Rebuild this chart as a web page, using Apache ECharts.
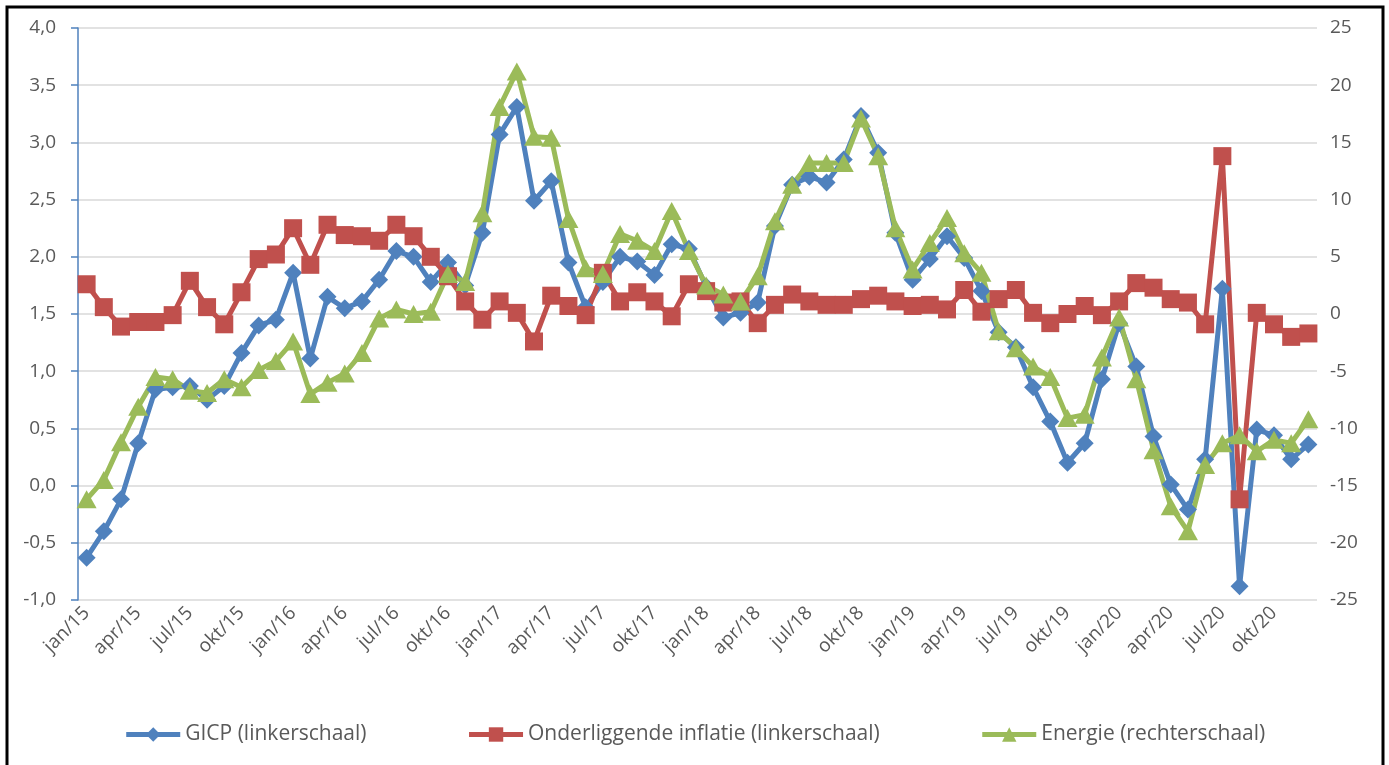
<!DOCTYPE html>
<html>
<head>
<meta charset="utf-8">
<script src="https://cdn.jsdelivr.net/npm/echarts@6/dist/echarts.min.js"></script>
<style>
html,body{margin:0;padding:0;background:#fff;}
#chart{width:1389px;height:765px;}
</style>
</head>
<body>
<div id="chart"></div>
<script>
const months = ['jan','feb','mrt','apr','mei','jun','jul','aug','sep','okt','nov','dec'];
const years = ['15','16','17','18','19','20'];
const categories = [];
years.forEach(y => months.forEach(m => categories.push(m + '/' + y)));

const gicp = [
-0.63, -0.40, -0.12, 0.37, 0.84, 0.86, 0.87, 0.75, 0.87, 1.16, 1.40, 1.45,
1.86, 1.11, 1.65, 1.55, 1.61, 1.80, 2.05, 2.00, 1.78, 1.95, 1.75, 2.21,
3.07, 3.31, 2.49, 2.66, 1.95, 1.56, 1.78, 2.00, 1.96, 1.84, 2.11, 2.07,
1.74, 1.47, 1.51, 1.60, 2.27, 2.63, 2.70, 2.65, 2.85, 3.23, 2.91, 2.21,
1.80, 1.98, 2.18, 1.99, 1.70, 1.34, 1.21, 0.86, 0.56, 0.20, 0.37, 0.93,
1.42, 1.04, 0.43, 0.01, -0.21, 0.23, 1.72, -0.88, 0.49, 0.44, 0.23, 0.36
];
const onderliggend = [
1.76, 1.56, 1.39, 1.43, 1.43, 1.49, 1.79, 1.56, 1.41, 1.69, 1.98, 2.02,
2.25, 1.93, 2.28, 2.19, 2.18, 2.14, 2.28, 2.18, 2.00, 1.83, 1.61, 1.45,
1.61, 1.51, 1.26, 1.66, 1.57, 1.49, 1.86, 1.61, 1.69, 1.61, 1.48, 1.76,
1.70, 1.60, 1.61, 1.42, 1.58, 1.67, 1.61, 1.58, 1.58, 1.63, 1.66, 1.61,
1.57, 1.58, 1.54, 1.71, 1.52, 1.63, 1.71, 1.51, 1.42, 1.50, 1.57, 1.49,
1.61, 1.77, 1.73, 1.63, 1.60, 1.41, 2.88, -0.12, 1.51, 1.41, 1.30, 1.33
];
const energie = [
-16.2, -14.5, -11.2, -8.1, -5.5, -5.7, -6.7, -6.9, -5.7, -6.4, -4.9, -4.1,
-2.4, -7.0, -6.0, -5.2, -3.4, -0.4, 0.4, 0.0, 0.2, 3.5, 2.8, 8.8,
18.1, 21.2, 15.5, 15.4, 8.3, 4.0, 3.5, 7.0, 6.4, 5.5, 9.0, 5.5,
2.5, 1.7, 1.1, 3.3, 8.1, 11.3, 13.2, 13.2, 13.2, 17.1, 13.8, 7.5,
3.9, 6.2, 8.4, 5.3, 3.6, -1.5, -3.0, -4.6, -5.5, -9.1, -8.8, -3.8,
-0.3, -5.7, -11.9, -16.8, -19.0, -13.2, -11.3, -10.6, -12.0, -11.0, -11.3, -9.2
];
const seriesNames = ['GICP (linkerschaal)', 'Onderliggende inflatie (linkerschaal)', 'Energie (rechterschaal)'];

const FONT = '"Open Sans", sans-serif';
const TXT = '#595959';
const chart = echarts.init(document.getElementById('chart'), null, {renderer: 'canvas'});
chart.setOption({
  animation: false,
  backgroundColor: '#fff',
  textStyle: {fontFamily: FONT},
  grid: {left: 78, right: 72, top: 28, bottom: 165, containLabel: false},
  graphic: [{
    type: 'rect', shape: {x: 7, y: 7, width: 1376, height: 770},
    style: {fill: 'none', stroke: '#000', lineWidth: 3}, silent: true, z: 100
  }],
  legend: {
    bottom: 15, left: 'center',
    itemWidth: 54, itemHeight: 18, itemGap: 100,
    lineStyle: {width: 5},
    textStyle: {fontFamily: FONT, fontSize: 21, color: TXT},
    data: seriesNames
  },
  xAxis: {
    type: 'category', data: categories, boundaryGap: true,
    axisLine: {show: false}, axisTick: {show: false},
    axisLabel: {interval: 2, rotate: 45, margin: 10, fontFamily: FONT, fontSize: 19, color: TXT}
  },
  yAxis: [{
    type: 'value', min: -1, max: 4, interval: 0.5, position: 'left',
    axisLine: {show: true, lineStyle: {color: '#4F81BD', width: 1.5}},
    axisTick: {show: true, length: 7, lineStyle: {color: '#4F81BD', width: 1.5}},
    splitLine: {show: true, lineStyle: {color: '#D9D9D9', width: 1.5}},
    axisLabel: {margin: 22, fontFamily: FONT, fontSize: 19, color: TXT,
      formatter: v => v.toFixed(1).replace('.', ',')}
  }, {
    type: 'value', min: -25, max: 25, interval: 5, position: 'right',
    axisLine: {show: false}, axisTick: {show: false},
    splitLine: {show: false},
    axisLabel: {margin: 13, fontFamily: FONT, fontSize: 19, color: TXT}
  }],
  series: [{
    name: seriesNames[0], type: 'line', yAxisIndex: 0, data: gicp,
    symbol: 'diamond', symbolSize: [18, 18], showSymbol: true, showAllSymbol: true,
    lineStyle: {color: '#4F81BD', width: 5}, itemStyle: {color: '#4F81BD'}
  }, {
    name: seriesNames[1], type: 'line', yAxisIndex: 0, data: onderliggend,
    symbol: 'rect', symbolSize: [18, 18], showSymbol: true, showAllSymbol: true,
    lineStyle: {color: '#C0504D', width: 5}, itemStyle: {color: '#C0504D'}
  }, {
    name: seriesNames[2], type: 'line', yAxisIndex: 1, data: energie,
    symbol: 'triangle', symbolSize: [20, 18], showSymbol: true, showAllSymbol: true,
    lineStyle: {color: '#9BBB59', width: 5}, itemStyle: {color: '#9BBB59'}
  }]
});
</script>
</body>
</html>
